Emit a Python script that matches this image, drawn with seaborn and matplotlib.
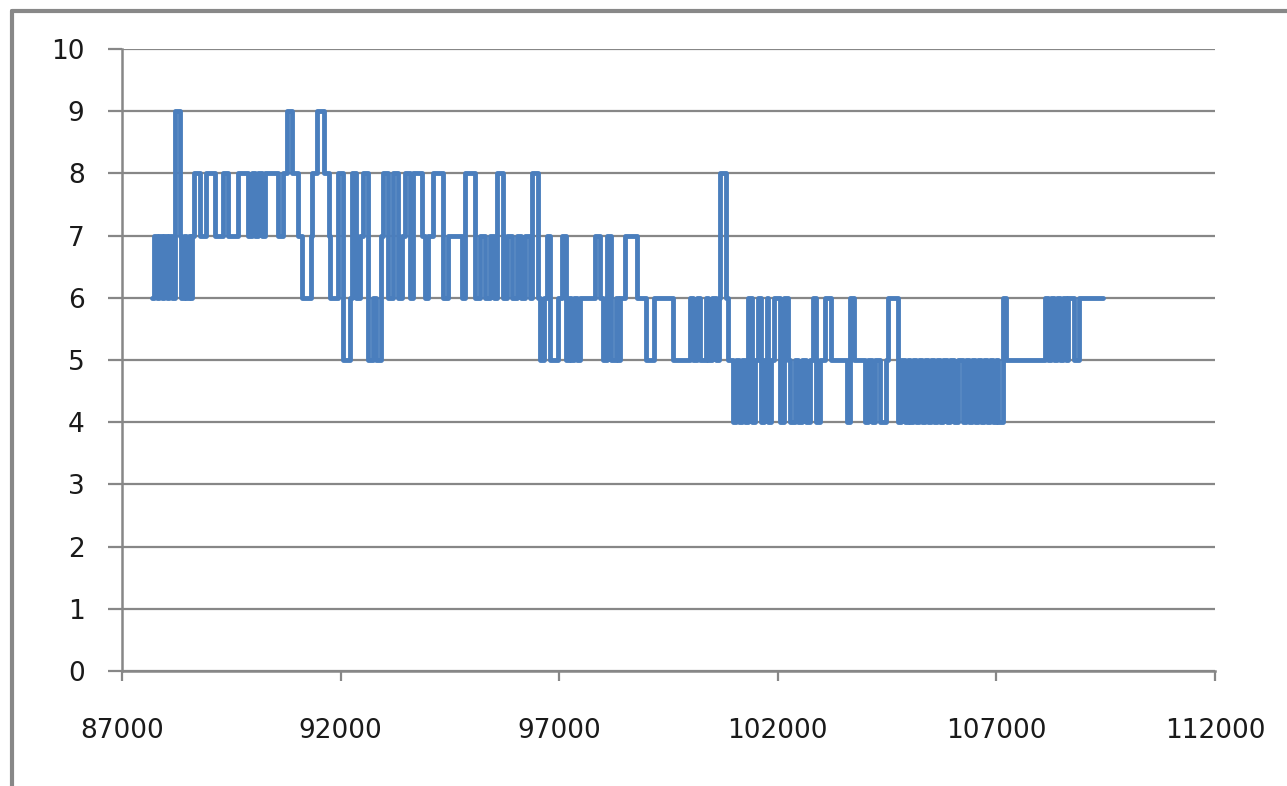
import matplotlib
matplotlib.use("Agg")
import matplotlib.pyplot as plt
from matplotlib.lines import Line2D
import seaborn as sns
import pandas as pd

# Step positions (x where the value changes) and values
step_x = [
    87690, 87740, 87800, 87850, 87910, 87960, 88020, 88080, 88140, 88210,
    88320, 88360, 88420, 88470, 88530, 88570, 88610, 88640, 88780, 88920,
    89130, 89310, 89420, 89650, 89880, 89970, 90050, 90110, 90200, 90260,
    90570, 90680, 90770, 90880, 91020, 91120, 91320, 91350, 91460, 91620,
    91730, 91760, 91940, 92050, 92215, 92260, 92350, 92444, 92510, 92626,
    92740, 92810, 92925, 92970, 93080, 93200, 93310, 93400, 93470, 93590,
    93655, 93860, 93930, 94000, 94110, 94340, 94455, 94776, 94845, 95073,
    95190, 95300, 95415, 95510, 95575, 95715, 95805, 95920, 96035, 96125,
    96215, 96330, 96375, 96510, 96560, 96650, 96720, 96790, 96970, 97060,
    97150, 97220, 97270, 97335, 97405, 97475, 97820, 97930, 98000, 98090,
    98185, 98300, 98345, 98390, 98505, 98780, 98985, 99165, 99600, 99990,
    100060, 100150, 100220, 100355, 100400, 100490, 100585, 100650, 100675, 100815,
    100860, 100975, 101040, 101110, 101180, 101250, 101315, 101410, 101475, 101545,
    101615, 101680, 101750, 101775, 101845, 101910, 102050, 102140, 102230, 102280,
    102390, 102460, 102550, 102645, 102735, 102805, 102870, 102965, 103075, 103215,
    103580, 103650, 103740, 103990, 104060, 104150, 104220, 104335, 104470, 104520,
    104750, 104815, 104905, 104975, 105020, 105090, 105160, 105225, 105295, 105365,
    105435, 105500, 105570, 105640, 105710, 105775, 105870, 105935, 106030, 106120,
    106235, 106305, 106370, 106440, 106510, 106575, 106645, 106715, 106780, 106850,
    106920, 106990, 107035, 107150, 107220, 108110, 108180, 108245, 108315, 108385,
    108450, 108520, 108590, 108635, 108770, 108885, 109435,
]
step_y = [
    6, 7, 6, 7, 6, 7, 6, 7, 6, 9,
    7, 6, 7, 6, 7, 6, 7, 8, 7, 8,
    7, 8, 7, 8, 7, 8, 7, 8, 7, 8,
    7, 8, 9, 8, 7, 6, 7, 8, 9, 8,
    7, 6, 8, 5, 6, 8, 6, 7, 8, 5,
    6, 5, 7, 8, 6, 8, 6, 7, 8, 6,
    8, 7, 6, 7, 8, 6, 7, 6, 8, 6,
    7, 6, 7, 6, 8, 6, 7, 6, 7, 6,
    7, 6, 8, 6, 5, 6, 7, 5, 6, 7,
    5, 6, 5, 6, 5, 6, 7, 6, 5, 7,
    5, 6, 5, 6, 7, 6, 5, 6, 5, 6,
    5, 6, 5, 6, 5, 6, 5, 6, 8, 6,
    5, 4, 5, 4, 5, 4, 6, 4, 5, 6,
    4, 5, 6, 4, 5, 6, 4, 6, 5, 4,
    5, 4, 5, 4, 5, 6, 4, 5, 6, 5,
    4, 6, 5, 4, 5, 4, 5, 4, 5, 6,
    4, 5, 4, 5, 4, 5, 4, 5, 4, 5,
    4, 5, 4, 5, 4, 5, 4, 5, 4, 5,
    4, 5, 4, 5, 4, 5, 4, 5, 4, 5,
    4, 5, 4, 6, 5, 6, 5, 6, 5, 6,
    5, 6, 5, 6, 5, 6, 6,
]

x_ticks = [87000, 92000, 97000, 102000, 107000, 112000]
y_ticks = list(range(0, 11))

df = pd.DataFrame({"x": step_x, "y": step_y})

sns.set_style("white")
plt.rcParams["font.family"] = ["DejaVu Sans"]

W, H = 1287, 786
fig = plt.figure(figsize=(W / 100, H / 100), dpi=100)
ax = fig.add_axes([122 / W, 1 - 671 / H, (1215 - 122) / W, (671 - 49) / H])

grid_c = "#878787"
line_c = "#4a7ebd"

sns.lineplot(data=df, x="x", y="y", ax=ax, drawstyle="steps-post",
             estimator=None, color=line_c, linewidth=3.5, zorder=3)

ax.set_xlim(87000, 112000)
ax.set_ylim(0, 10)
ax.set_xticks(x_ticks)
ax.set_yticks(y_ticks)
ax.set_xticklabels([str(v) for v in x_ticks])
ax.set_yticklabels([str(v) for v in y_ticks])
ax.set_xlabel("")
ax.set_ylabel("")

ax.grid(axis="y", color=grid_c, linewidth=1.6, zorder=1)
ax.grid(axis="x", visible=False)
ax.set_axisbelow(True)

for s in ["top", "right"]:
    ax.spines[s].set_visible(False)
for s in ["left", "bottom"]:
    ax.spines[s].set_color(grid_c)
    ax.spines[s].set_linewidth(1.8)

ax.tick_params(axis="y", direction="out", length=10, width=1.6, color=grid_c,
               pad=17, labelsize=19, labelcolor="#1a1a1a", left=True)
ax.tick_params(axis="x", direction="out", length=7, width=1.6, color=grid_c,
               pad=27, labelsize=19, labelcolor="#1a1a1a", bottom=True)

# outer chart frame (left and top edges visible)
fig.add_artist(Line2D([12 / W, 12 / W], [0, 1 - 11 / H], transform=fig.transFigure,
                      color="#888888", linewidth=3.0))
fig.add_artist(Line2D([12 / W, 1], [1 - 11 / H, 1 - 11 / H], transform=fig.transFigure,
                      color="#888888", linewidth=3.0))

fig.savefig("out.png", dpi=100)
